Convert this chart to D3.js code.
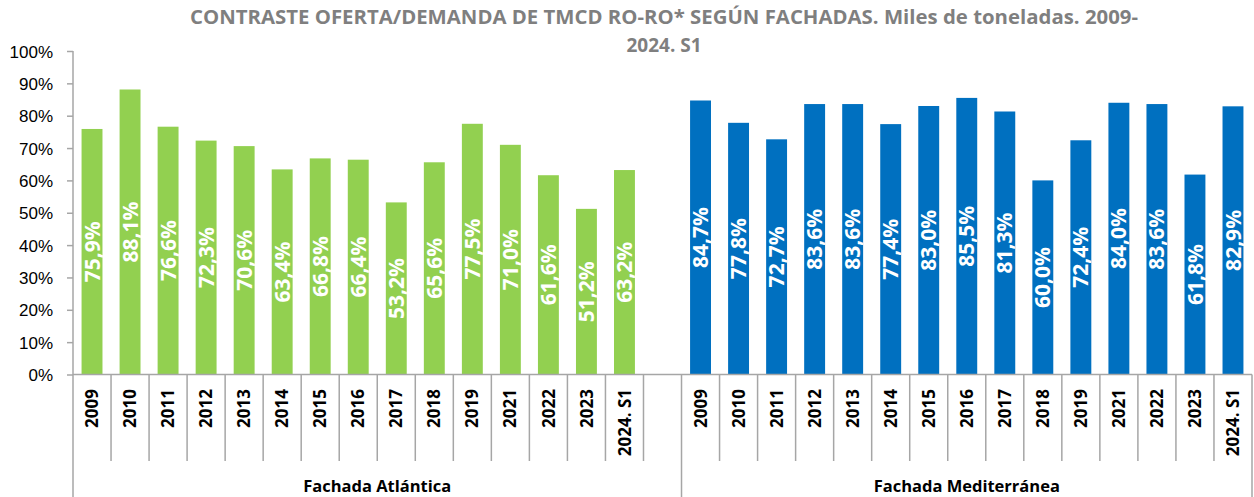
<!DOCTYPE html>
<html>
<head>
<meta charset="utf-8">
<script src="https://cdn.jsdelivr.net/npm/d3@7"></script>
<style>
  body { margin: 0; background: #fff; }
  svg { display: block; }
</style>
</head>
<body>
<div id="chart"></div>
<script>
const title_lines = ["CONTRASTE OFERTA/DEMANDA DE TMCD RO-RO* SEGÚN FACHADAS. Miles de toneladas. 2009-", "2024. S1"];

const group_names = ["Fachada Atlántica", "Fachada Mediterránea"];

const atlantic_years = ["2009", "2010", "2011", "2012", "2013", "2014", "2015", "2016", "2017", "2018", "2019", "2021", "2022", "2023", "2024. S1"];
const atlantic_values = [75.9, 88.1, 76.6, 72.3, 70.6, 63.4, 66.8, 66.4, 53.2, 65.6, 77.5, 71.0, 61.6, 51.2, 63.2];

const med_years = ["2009", "2010", "2011", "2012", "2013", "2014", "2015", "2016", "2017", "2018", "2019", "2021", "2022", "2023", "2024. S1"];
const med_values = [84.7, 77.8, 72.7, 83.6, 83.6, 77.4, 83.0, 85.5, 81.3, 60.0, 72.4, 84.0, 83.6, 61.8, 82.9];

const y_ticks = [0, 10, 20, 30, 40, 50, 60, 70, 80, 90, 100];

const width = 1254, height = 497;
const margin = {left: 73, right: 2, top: 51, axisY: 374.5};
const colors = ["#92D050", "#0070C0"];
const gridGrey = "#a6a6a6";

// slots: atlantic + one blank + mediterranean
var slots = [];
atlantic_years.forEach(function(y, i){ slots.push({key: "A" + i, year: y, value: atlantic_values[i], group: 0}); });
slots.push({key: "A-blank", year: "", value: null, group: 0});
med_years.forEach(function(y, i){ slots.push({key: "M" + i, year: y, value: med_values[i], group: 1}); });

const svg = d3.select("#chart").append("svg")
    .attr("width", width)
    .attr("height", height);

const x = d3.scaleBand()
    .domain(slots.map(function(d){ return d.key; }))
    .range([margin.left, width - margin.right])
    .padding(0);

const y = d3.scaleLinear()
    .domain([0, 100])
    .range([margin.axisY, margin.top]);

const barW = x.bandwidth() * 0.55;

/* title */
svg.selectAll(".title")
    .data(title_lines)
    .enter().append("text")
    .attr("class", "title")
    .attr("x", 664)
    .attr("y", function(d, i){ return 24 + i * 28; })
    .attr("text-anchor", "middle")
    .attr("font-family", "'Open Sans', sans-serif")
    .attr("font-weight", "bold")
    .attr("font-size", 19)
    .attr("fill", "#7f7f7f")
    .attr("textLength", function(d, i){ return i === 0 ? 948 : null; })
    .attr("lengthAdjust", "spacingAndGlyphs")
    .text(function(d){ return d; });

/* y axis */
const yAxis = svg.append("g")
    .attr("transform", "translate(" + margin.left + ",0)")
    .call(d3.axisLeft(y).tickValues(y_ticks).tickSize(6).tickPadding(14)
        .tickFormat(function(d){ return d + "%"; }));
yAxis.select(".domain").remove();
yAxis.selectAll(".tick line").attr("stroke", gridGrey).attr("stroke-width", 1.5);
yAxis.selectAll(".tick text")
    .attr("font-family", "'Liberation Sans', Arial, sans-serif")
    .attr("font-size", 17)
    .attr("fill", "#000")
    .attr("dy", "0.36em");

svg.append("line")
    .attr("x1", margin.left).attr("x2", margin.left)
    .attr("y1", y(100)).attr("y2", height)
    .attr("stroke", gridGrey).attr("stroke-width", 1.5);

/* bars */
const barData = slots.filter(function(d){ return d.value !== null; });

svg.selectAll(".bar")
    .data(barData)
    .enter().append("rect")
    .attr("class", "bar")
    .attr("x", function(d){ return x(d.key) + (x.bandwidth() - barW) / 2; })
    .attr("y", function(d){ return y(d.value); })
    .attr("width", barW)
    .attr("height", function(d){ return y(0) - y(d.value); })
    .attr("fill", function(d){ return colors[d.group]; });

/* value labels */
svg.selectAll(".vlabel")
    .data(barData)
    .enter().append("text")
    .attr("class", "vlabel")
    .attr("transform", function(d){
        var cx = x(d.key) + x.bandwidth() / 2;
        var cy = (y(0) + y(d.value)) / 2;
        return "translate(" + cx + "," + cy + ") rotate(-90)";
    })
    .attr("text-anchor", "middle")
    .attr("dy", "0.36em")
    .attr("font-family", "'Open Sans', sans-serif")
    .attr("font-weight", "bold")
    .attr("font-size", 21)
    .attr("fill", "#fff")
    .text(function(d){ return d.value.toFixed(1).replace(".", ",") + "%"; });

/* category axis */
svg.append("line")
    .attr("x1", margin.left).attr("x2", width - margin.right)
    .attr("y1", y(0)).attr("y2", y(0))
    .attr("stroke", gridGrey).attr("stroke-width", 1.5);

// separators between categories
var seps = slots.slice(1).map(function(d){ return d.key; });
svg.selectAll(".sep")
    .data(seps)
    .enter().append("line")
    .attr("class", "sep")
    .attr("x1", function(d){ return x(d); })
    .attr("x2", function(d){ return x(d); })
    .attr("y1", y(0))
    .attr("y2", function(d){ return d === "M0" ? height : 461; })
    .attr("stroke", gridGrey).attr("stroke-width", 1.5);

svg.append("line")
    .attr("x1", width - margin.right).attr("x2", width - margin.right)
    .attr("y1", y(0)).attr("y2", height)
    .attr("stroke", gridGrey).attr("stroke-width", 1.5);

svg.selectAll(".year")
    .data(slots.filter(function(d){ return d.year !== ""; }))
    .enter().append("text")
    .attr("class", "year")
    .attr("transform", function(d){
        return "translate(" + (x(d.key) + x.bandwidth() / 2) + ",389) rotate(-90)";
    })
    .attr("text-anchor", "end")
    .attr("dy", "0.36em")
    .attr("font-family", "'Open Sans', sans-serif")
    .attr("font-weight", "bold")
    .attr("font-size", 17)
    .attr("fill", "#000")
    .text(function(d){ return d.year; });

/* group labels */
var groupSpans = [
    [x("A0"), x("M0")],
    [x("M0"), width - margin.right]
];
svg.selectAll(".group")
    .data(group_names)
    .enter().append("text")
    .attr("class", "group")
    .attr("x", function(d, i){ return (groupSpans[i][0] + groupSpans[i][1]) / 2; })
    .attr("y", 492)
    .attr("text-anchor", "middle")
    .attr("font-family", "'Open Sans', sans-serif")
    .attr("font-weight", "bold")
    .attr("font-size", 16.5)
    .attr("fill", "#000")
    .text(function(d){ return d; });
</script>
</body>
</html>
